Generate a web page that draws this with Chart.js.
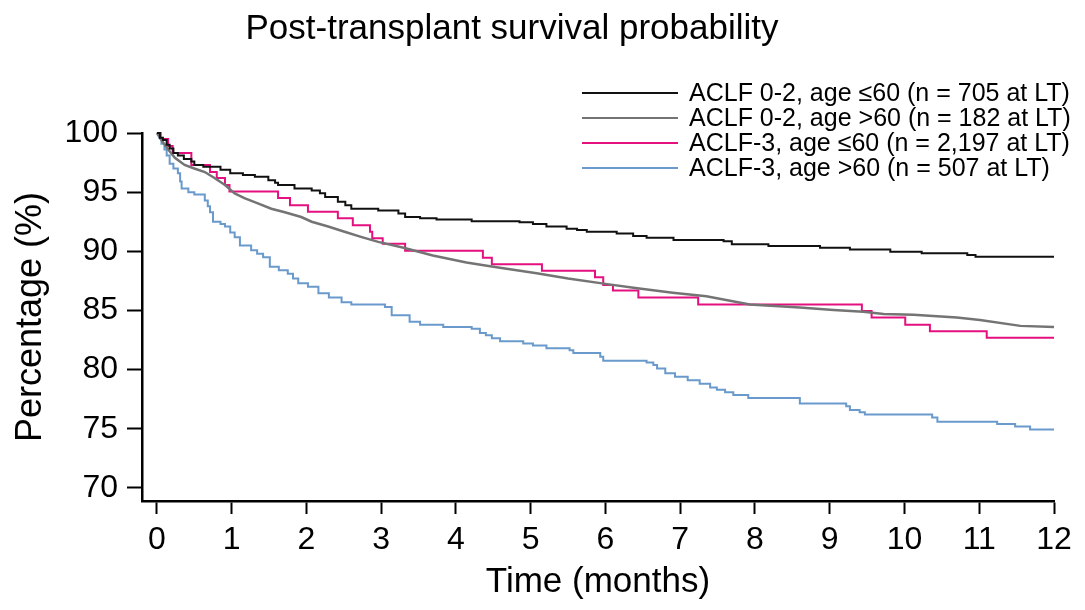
<!DOCTYPE html>
<html><head><meta charset="utf-8">
<script src="https://cdn.jsdelivr.net/npm/chart.js@4.4.1/dist/chart.umd.min.js"></script>
<style>html,body{margin:0;padding:0;background:#fff;}#wrap{width:1085px;height:610px;}</style>
</head><body><div id="wrap"><canvas id="c" width="1085" height="610"></canvas></div>
<script>
const FONT = '"Liberation Sans", Arial, Helvetica, sans-serif';
const titleText = 'Post-transplant survival probability';
const xAxisTitle = 'Time (months)';
const yAxisTitle = 'Percentage (%)';
const xTicks = [0,1,2,3,4,5,6,7,8,9,10,11,12];
const yTicks = [70,75,80,85,90,95,100];
const seriesLabels = [
  'ACLF 0-2, age \u226460 (n = 705 at LT)',
  'ACLF 0-2, age >60 (n = 182 at LT)',
  'ACLF-3, age \u226460 (n = 2,197 at LT)',
  'ACLF-3, age >60 (n = 507 at LT)'
];
const seriesColors = ['#111111', '#747474', '#e5107f', '#6a9acb'];

const timeBlack = [0,0.04,0.08,0.13,0.17,0.22,0.28,0.36,0.46,0.50,0.62,0.85,0.98,1.15,1.31,1.49,1.58,1.62,1.84,2.07,2.18,2.25,2.42,2.52,2.60,2.96,3.23,3.32,3.52,3.74,4.21,4.85,5.03,5.21,5.48,5.62,5.75,6.15,6.37,6.55,6.91,7.58,7.69,8.18,8.87,9.27,9.81,10.23,10.84,10.95,12.0];
const survBlack = [100,99.6,99.4,99.0,98.7,98.3,98.1,97.8,97.6,97.3,97.15,96.9,96.6,96.45,96.3,96.0,95.8,95.6,95.3,95.15,94.9,94.6,94.2,93.9,93.6,93.45,93.2,92.9,92.8,92.7,92.55,92.45,92.3,92.1,91.9,91.8,91.65,91.5,91.3,91.15,90.95,90.85,90.6,90.45,90.3,90.15,89.97,89.83,89.7,89.55,89.55];

const timeGray = [0,0.06,0.15,0.24,0.37,0.50,0.64,0.77,0.91,1.04,1.17,1.35,1.53,1.71,1.93,2.07,2.29,2.51,2.74,2.96,3.30,3.69,4.14,4.50,5.08,5.50,6.00,6.40,6.90,7.35,7.93,8.60,9.05,9.45,9.72,10.12,10.70,11.01,11.55,12.0];
const survGray = [100,99.4,98.6,97.9,97.3,97.0,96.7,96.2,95.6,94.9,94.5,94.05,93.6,93.3,92.9,92.5,92.1,91.65,91.2,90.8,90.3,89.65,89.05,88.7,88.15,87.7,87.25,86.9,86.5,86.2,85.5,85.25,85.05,84.9,84.7,84.65,84.4,84.2,83.7,83.6];

const timePink = [0,0.05,0.15,0.21,0.46,0.71,0.80,0.91,0.97,1.62,1.78,2.02,2.42,2.62,2.85,2.88,3.02,3.32,4.36,4.48,5.15,5.86,5.97,6.10,6.44,7.24,9.43,9.56,10.01,10.34,11.10,12.0];
const survPink = [100,99.5,98.9,98.3,97.3,96.7,96.2,95.6,95.05,94.5,93.9,93.35,92.8,92.2,91.65,91.1,90.65,90.05,89.45,88.9,88.35,87.8,87.15,86.7,86.1,85.5,84.95,84.4,83.8,83.25,82.7,82.7];

const timeBlue = [0,0.03,0.06,0.10,0.13,0.17,0.22,0.28,0.31,0.33,0.42,0.50,0.64,0.68,0.71,0.75,0.85,0.91,0.98,1.04,1.11,1.26,1.34,1.42,1.51,1.63,1.75,1.82,1.89,2.02,2.16,2.30,2.47,2.60,3.05,3.14,3.38,3.52,3.83,4.21,4.32,4.40,4.48,4.59,4.90,5.03,5.21,5.52,5.57,5.93,5.97,6.55,6.64,6.69,6.80,6.93,7.10,7.26,7.40,7.49,7.60,7.71,7.91,8.60,9.22,9.27,9.40,9.47,10.37,10.44,11.24,11.48,11.68,12.0];
const survBlue = [100,99.6,99.1,98.6,98.1,97.4,97.0,96.6,95.9,95.3,95.0,94.8,94.3,93.8,93.3,92.5,92.3,92.1,91.6,91.2,90.5,90.1,89.8,89.5,88.7,88.4,88.1,87.7,87.3,87.0,86.45,86.1,85.7,85.5,85.3,84.6,84.05,83.8,83.6,83.45,83.1,82.9,82.65,82.4,82.2,82.05,81.8,81.65,81.4,81.1,80.75,80.6,80.4,80.1,79.7,79.4,79.1,78.8,78.5,78.3,78.1,77.85,77.6,77.15,76.9,76.6,76.4,76.2,75.95,75.6,75.4,75.2,74.95,74.95];

function pts(t, v) { return t.map((x, i) => ({x: x, y: v[i]})); }

const titlePlugin = {
  id: 'plotTitle',
  afterDraw(chart) {
    const ctx = chart.ctx;
    ctx.save();
    ctx.font = '35px ' + FONT;
    ctx.fillStyle = '#000';
    ctx.textAlign = 'center';
    ctx.textBaseline = 'alphabetic';
    ctx.fillText(titleText, 512, 39);
    ctx.restore();
  }
};

const legendPlugin = {
  id: 'plotLegend',
  afterDraw(chart) {
    const ctx = chart.ctx;
    ctx.save();
    ctx.font = '25px ' + FONT;
    ctx.textAlign = 'left';
    ctx.textBaseline = 'middle';
    chart.data.datasets.forEach((ds, i) => {
      const y = 93 + i * 25;
      ctx.strokeStyle = ds.borderColor;
      ctx.lineWidth = 2;
      ctx.beginPath();
      ctx.moveTo(582, y);
      ctx.lineTo(678, y);
      ctx.stroke();
      ctx.fillStyle = '#000';
      ctx.fillText(ds.label, 689, y + 1);
    });
    ctx.restore();
  }
};

const datasets = [
  {label: seriesLabels[0], data: pts(timeBlack, survBlack), borderColor: seriesColors[0], stepped: true, borderWidth: 2},
  {label: seriesLabels[1], data: pts(timeGray, survGray), borderColor: seriesColors[1], stepped: false, borderWidth: 2.5},
  {label: seriesLabels[2], data: pts(timePink, survPink), borderColor: seriesColors[2], stepped: true, borderWidth: 2},
  {label: seriesLabels[3], data: pts(timeBlue, survBlue), borderColor: seriesColors[3], stepped: true, borderWidth: 2}
].map(d => Object.assign(d, {pointRadius: 0, fill: false, tension: 0, clip: false}));

new Chart(document.getElementById('c'), {
  type: 'line',
  data: {datasets: datasets},
  options: {
    responsive: false,
    animation: false,
    layout: {padding: {top: 133, right: 31, left: 0, bottom: 0}},
    plugins: {legend: {display: false}, title: {display: false}, tooltip: {enabled: false}},
    scales: {
      x: {
        type: 'linear', min: -0.2, max: 12,
        afterBuildTicks: s => { s.ticks = xTicks.map(v => ({value: v})); },
        afterFit: s => { s.height = 109; },
        ticks: {font: {size: 32, family: FONT}, color: '#000', padding: 7, maxRotation: 0, autoSkip: false},
        grid: {drawOnChartArea: false, drawTicks: true, tickLength: 13, tickWidth: 2, tickColor: '#000'},
        border: {display: true, color: '#000', width: 2.5},
        title: {display: true, text: xAxisTitle, color: '#000', font: {size: 35, family: FONT}, padding: {top: 0, bottom: 7}}
      },
      y: {
        type: 'linear', min: 68.9, max: 100,
        afterBuildTicks: s => { s.ticks = yTicks.map(v => ({value: v})); },
        afterFit: s => { s.width = 142; },
        ticks: {font: {size: 32, family: FONT}, color: '#000', padding: 9},
        grid: {drawOnChartArea: false, drawTicks: true, tickLength: 15, tickWidth: 2, tickColor: '#000'},
        border: {display: true, color: '#000', width: 2.5},
        title: {display: true, text: yAxisTitle, color: '#000', font: {size: 36, family: FONT}, padding: {top: 9, bottom: 0}}
      }
    }
  },
  plugins: [titlePlugin, legendPlugin]
});
</script></body></html>
